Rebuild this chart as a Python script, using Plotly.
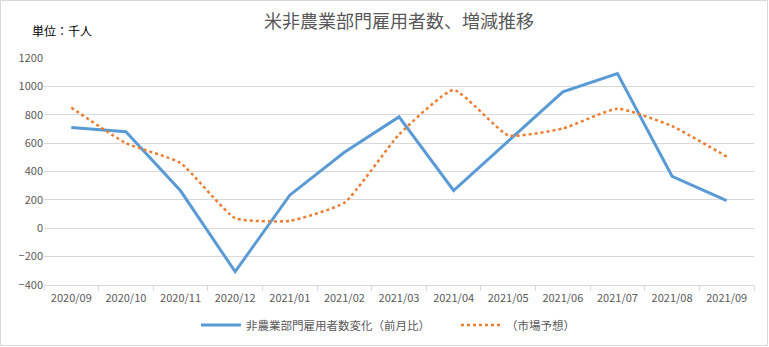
import plotly.graph_objects as go

months = ["2020/09", "2020/10", "2020/11", "2020/12", "2021/01", "2021/02", "2021/03",
          "2021/04", "2021/05", "2021/06", "2021/07", "2021/08", "2021/09"]
actual = [711, 680, 264, -306, 233, 536, 785, 266, 614, 962, 1091, 366, 194]
forecast = [850, 600, 460, 71, 52, 180, 660, 975, 655, 703, 843, 720, 505]

series_actual_name = "非農業部門雇用者数変化（前月比）"
series_forecast_name = "（市場予想）"
title_text = "米非農業部門雇用者数、増減推移"
unit_text = "単位：千人"

W, H = 769, 347
ml, mr, mt, mb = 44, 15, 58, 62
pw, ph = W - ml - mr, H - mt - mb

font_family = "Noto Sans CJK JP, Noto Sans, sans-serif"

fig = go.Figure()
fig.add_trace(go.Scatter(
    x=months, y=actual, name=series_actual_name, mode="lines",
    line=dict(color="#5B9BD5", width=3),
))
fig.add_trace(go.Scatter(
    x=months, y=forecast, name=series_forecast_name, mode="lines",
    line=dict(color="#ED7D31", width=2.5, dash="dot", shape="spline", smoothing=0.45),
))

fig.update_layout(
    width=W, height=H,
    margin=dict(l=ml, r=mr, t=mt, b=mb, autoexpand=False),
    paper_bgcolor="white", plot_bgcolor="white",
    font=dict(family=font_family, size=11, color="#595959"),
    title=dict(text=title_text, x=0.5, xref="paper", xanchor="center",
               yref="container", y=1 - 22 / H, yanchor="middle",
               font=dict(size=18, color="#595959")),
    showlegend=True,
    legend=dict(orientation="h", xref="container", x=(196) / W, xanchor="left",
                yref="container", y=1 - 325 / H, yanchor="middle",
                font=dict(size=11.5, color="#595959"),
                itemwidth=40, entrywidth=205, entrywidthmode="pixels",
                tracegroupgap=0),
    xaxis=dict(
        type="category", range=[-0.5, len(months) - 0.5], automargin=False,
        showgrid=False, showline=True, linecolor="#D9D9D9", linewidth=1,
        ticks="outside", tickson="boundaries", ticklen=5, tickcolor="#D9D9D9",
        tickfont=dict(size=11, color="#595959"), tickangle=0,
        ticklabelstandoff=3,
    ),
    yaxis=dict(
        range=[-400, 1200], dtick=200, tick0=-400, automargin=False,
        showgrid=True, gridcolor="#D9D9D9", gridwidth=1,
        zeroline=False, showline=False, ticks="",
        tickfont=dict(size=11, color="#595959"),
    ),
)

fig.add_annotation(
    text=unit_text, xref="paper", yref="paper",
    x=(30 - ml) / pw, y=1 + (mt - 31) / ph, xanchor="left", yanchor="middle",
    showarrow=False, font=dict(size=12, color="#000000", family=font_family),
)

# outer chart border
fig.add_shape(
    type="rect", xref="paper", yref="paper",
    x0=(0.5 - ml) / pw, x1=(W - 1.5 - ml) / pw,
    y0=-(mb - 1.5) / ph, y1=1 + (mt - 0.5) / ph,
    line=dict(color="#D9D9D9", width=1), fillcolor="rgba(0,0,0,0)", layer="below",
)

fig.write_html("out.html")
